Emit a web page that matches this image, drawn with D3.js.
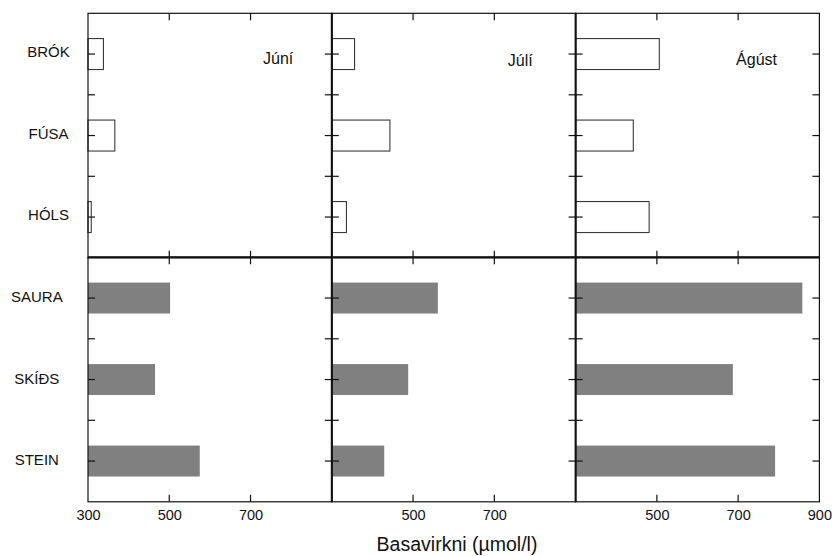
<!DOCTYPE html>
<html>
<head>
<meta charset="utf-8">
<script src="https://cdn.jsdelivr.net/npm/d3@7"></script>
<style>
  html, body { margin: 0; padding: 0; background: #fff; }
  svg { display: block; font-family: "Liberation Sans", Arial, Helvetica, sans-serif; }
</style>
</head>
<body>
<svg id="chart" width="832" height="556"></svg>
<script>
// ---- data ----
const months = ["Júní", "Júlí", "Ágúst"];
const categoriesTop = ["BRÓK", "FÚSA", "HÓLS"];
const categoriesBottom = ["SAURA", "SKÍÐS", "STEIN"];
const topValues = [
  [338, 366, 308],   // Júní
  [356, 443, 336],   // Júlí
  [506, 442, 481]    // Ágúst
];
const bottomValues = [
  [502, 465, 575],   // Júní
  [561, 488, 429],   // Júlí
  [858, 687, 791]    // Ágúst
];
const xDomain = [300, 900];
const xTickMarks = [500, 700];
const xTickLabels = [[300, 500, 700], [500, 700], [500, 700, 900]];
const axisTitle = "Basavirkni (µmol/l)";

// ---- layout ----
const svg = d3.select("#chart");
const panelX0 = 88, panelW = 243.8;
const rowY0 = [13.3, 257.3], rowH = 244.5;
const tickLen = 7;
const monthPos = [[175, 63.5], [176, 66], [160.5, 65]];
const labelCenterX = [48.5, 36.8];
const labelDy = [3, 4];
const ink = "#111";

const rows = [
  { cats: categoriesTop, values: topValues, filled: false },
  { cats: categoriesBottom, values: bottomValues, filled: true }
];

const frames = svg.append("g").attr("class", "frames");
const marks = svg.append("g").attr("class", "marks");
const ticksG = svg.append("g").attr("class", "ticks");
const textG = svg.append("g").attr("class", "texts");

rows.forEach((row, r) => {
  const y0 = rowY0[r];
  const y = d3.scaleBand().domain(row.cats).range([y0, y0 + rowH])
    .paddingInner(0.62).paddingOuter(0.31);
  const step = y.step();

  // category labels
  textG.append("g").selectAll("text").data(row.cats).join("text")
    .attr("x", labelCenterX[r])
    .attr("y", d => y(d) + y.bandwidth() / 2 + labelDy[r])
    .attr("text-anchor", "middle")
    .attr("font-size", 15)
    .attr("fill", ink)
    .text(d => d);

  months.forEach((m, p) => {
    const x0 = panelX0 + p * panelW;
    const x = d3.scaleLinear().domain(xDomain).range([x0, x0 + panelW]);
    const data = row.cats.map((c, i) => ({ c, v: row.values[p][i] }));

    // bars
    marks.append("g").selectAll("rect").data(data).join("rect")
      .attr("x", x(xDomain[0]))
      .attr("y", d => y(d.c))
      .attr("width", d => x(d.v) - x(xDomain[0]))
      .attr("height", y.bandwidth())
      .attr("fill", row.filled ? "#808080" : "#fff")
      .attr("stroke", row.filled ? "none" : "#3a3a3a")
      .attr("stroke-width", 1.1);

    // y ticks: band centres and boundaries, inward on both sides
    const yTicks = [];
    row.cats.forEach((c, i) => {
      yTicks.push(y(c) + y.bandwidth() / 2);
      if (i > 0) yTicks.push(y(c) + y.bandwidth() / 2 - step / 2);
    });
    const tg = ticksG.append("g");
    tg.append("g").selectAll("line").data(yTicks).join("line")
      .attr("x1", x0).attr("x2", x0 + tickLen)
      .attr("y1", d => d).attr("y2", d => d)
      .attr("stroke", ink).attr("stroke-width", 1.2);
    tg.append("g").selectAll("line").data(yTicks).join("line")
      .attr("x1", x0 + panelW).attr("x2", x0 + panelW - tickLen)
      .attr("y1", d => d).attr("y2", d => d)
      .attr("stroke", ink).attr("stroke-width", 1.2);

    // x ticks top & bottom, inward
    tg.append("g").selectAll("line").data(xTickMarks).join("line")
      .attr("x1", d => x(d)).attr("x2", d => x(d))
      .attr("y1", y0).attr("y2", y0 + tickLen)
      .attr("stroke", ink).attr("stroke-width", 1.2);
    tg.append("g").selectAll("line").data(xTickMarks).join("line")
      .attr("x1", d => x(d)).attr("x2", d => x(d))
      .attr("y1", y0 + rowH).attr("y2", y0 + rowH - tickLen)
      .attr("stroke", ink).attr("stroke-width", 1.2);

    // frame
    frames.append("rect")
      .attr("x", x0).attr("y", y0)
      .attr("width", panelW).attr("height", rowH)
      .attr("fill", "none").attr("stroke", ink).attr("stroke-width", 1.2);

    // month label (top row only)
    if (r === 0) {
      textG.append("text")
        .attr("x", x0 + monthPos[p][0])
        .attr("y", monthPos[p][1])
        .attr("font-size", 16)
        .attr("fill", ink)
        .text(m);
    }

    // x tick labels (bottom row)
    if (r === 1) {
      const axL = d3.axisBottom(x).tickValues(xTickLabels[p]).tickSize(0).tickPadding(0);
      const gl = textG.append("g").attr("transform", `translate(0,${y0 + rowH})`).call(axL);
      gl.select(".domain").remove();
      gl.selectAll(".tick line").remove();
      gl.selectAll(".tick text")
        .attr("dy", null)
        .attr("y", 18.5)
        .attr("font-size", 14.5)
        .attr("font-family", "Liberation Sans, Arial, sans-serif")
        .attr("fill", ink);
    }
  });
});

// separators slightly heavier
[1, 2].forEach(p => {
  frames.append("line")
    .attr("x1", panelX0 + p * panelW).attr("x2", panelX0 + p * panelW)
    .attr("y1", rowY0[0]).attr("y2", rowY0[1] + rowH)
    .attr("stroke", ink).attr("stroke-width", 2);
});
frames.append("line")
  .attr("x1", panelX0).attr("x2", panelX0 + 3 * panelW)
  .attr("y1", rowY0[1]).attr("y2", rowY0[1])
  .attr("stroke", ink).attr("stroke-width", 2);
frames.raise();

// axis title
textG.append("text")
  .attr("x", 457).attr("y", 551)
  .attr("text-anchor", "middle")
  .attr("font-size", 19.5)
  .attr("fill", ink)
  .text(axisTitle);
</script>
</body>
</html>
